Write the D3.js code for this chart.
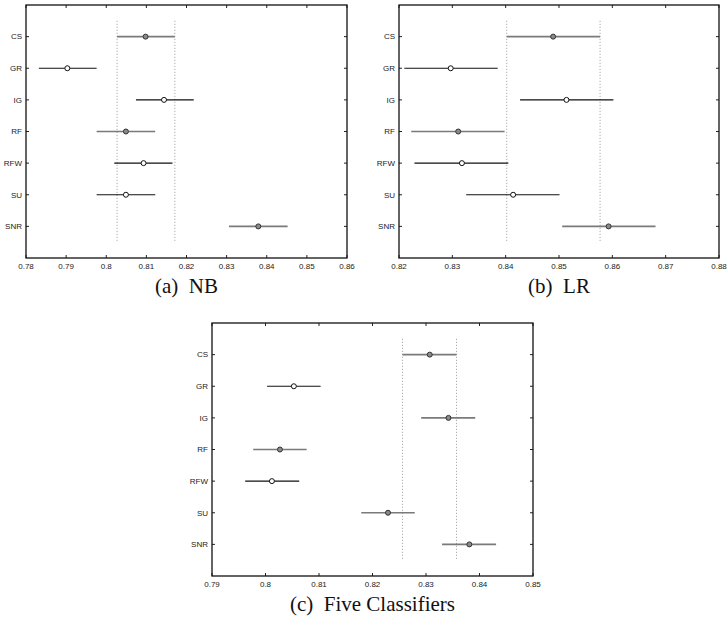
<!DOCTYPE html>
<html>
<head>
<meta charset="utf-8">
<script src="https://cdn.jsdelivr.net/npm/d3@7"></script>
<style>
  body { margin: 0; background: #fff; }
  svg { display: block; }
  .tick-label { font-family: "Liberation Sans", Arial, sans-serif; font-size: 8px; fill: #222; }
  .caption { font-family: "Liberation Serif", "Times New Roman", serif; font-size: 21px; fill: #111; }
</style>
</head>
<body>
<div id="viz"></div>
<script>
// ====================
// DATA
// ====================
const methods = ['CS', 'GR', 'IG', 'RF', 'RFW', 'SU', 'SNR'];

// (a) NB
const nbMean = [0.8098, 0.7903, 0.8144, 0.8049, 0.8093, 0.8049, 0.8379];
const nbLow  = [0.8027, 0.7832, 0.8074, 0.7976, 0.8020, 0.7976, 0.8306];
const nbHigh = [0.8171, 0.7976, 0.8218, 0.8122, 0.8165, 0.8122, 0.8452];
const nbGray = [true, false, false, true, false, false, true];
const nbTicks = [0.78, 0.79, 0.80, 0.81, 0.82, 0.83, 0.84, 0.85, 0.86];

// (b) LR
const lrMean = [0.8489, 0.8297, 0.8514, 0.8311, 0.8318, 0.8414, 0.8593];
const lrLow  = [0.8402, 0.8210, 0.8427, 0.8223, 0.8229, 0.8326, 0.8506];
const lrHigh = [0.8577, 0.8385, 0.8602, 0.8398, 0.8405, 0.8501, 0.8681];
const lrGray = [true, false, false, true, false, false, true];
const lrTicks = [0.82, 0.83, 0.84, 0.85, 0.86, 0.87, 0.88];

// (c) Five Classifiers
const fcMean = [0.8307, 0.8053, 0.8342, 0.8027, 0.8012, 0.8229, 0.8381];
const fcLow  = [0.8256, 0.8003, 0.8291, 0.7977, 0.7962, 0.8179, 0.8330];
const fcHigh = [0.8357, 0.8103, 0.8392, 0.8077, 0.8063, 0.8279, 0.8431];
const fcGray = [true, false, true, true, false, true, true];
const fcTicks = [0.79, 0.80, 0.81, 0.82, 0.83, 0.84, 0.85];

// ====================
// SETUP
// ====================
const width = 727;
const height = 628;

const svg = d3.select('#viz')
  .append('svg')
  .attr('width', width)
  .attr('height', height);

const panels = [
  { left: 26, top: 5, w: 321, h: 253, means: nbMean, lows: nbLow, highs: nbHigh, gray: nbGray, ticks: nbTicks, caption: '(a)\u00a0\u00a0NB' },
  { left: 399, top: 5, w: 320, h: 253, means: lrMean, lows: lrLow, highs: lrHigh, gray: lrGray, ticks: lrTicks, caption: '(b)\u00a0\u00a0LR' },
  { left: 212, top: 323, w: 321, h: 253, means: fcMean, lows: fcLow, highs: fcHigh, gray: fcGray, ticks: fcTicks, caption: '(c)\u00a0\u00a0Five Classifiers' }
];

const fmt = (v) => String(+v.toFixed(2));

const drawPanel = (p) => {
  const g = svg.append('g').attr('transform', `translate(${p.left},${p.top})`);

  const x = d3.scaleLinear()
    .domain(d3.extent(p.ticks))
    .range([0, p.w]);
  const y = d3.scaleLinear()
    .domain([0, methods.length + 1])
    .range([0, p.h]);

  // dotted reference lines at the selected group's (CS) interval
  g.selectAll('line.ref')
    .data([p.lows[0], p.highs[0]])
    .join('line')
    .attr('class', 'ref')
    .attr('x1', (d) => x(d)).attr('x2', (d) => x(d))
    .attr('y1', y(0.5)).attr('y2', y(methods.length + 0.5))
    .attr('stroke', '#9a9a9a')
    .attr('stroke-width', 1)
    .attr('stroke-dasharray', '1,2');

  // interval lines
  g.selectAll('line.ci')
    .data(methods)
    .join('line')
    .attr('class', 'ci')
    .attr('x1', (d, i) => x(p.lows[i]))
    .attr('x2', (d, i) => x(p.highs[i]))
    .attr('y1', (d, i) => y(i + 1))
    .attr('y2', (d, i) => y(i + 1))
    .attr('stroke', (d, i) => p.gray[i] ? '#7a7a7a' : '#111')
    .attr('stroke-width', (d, i) => p.gray[i] ? 1.6 : 1.2);

  // mean markers
  g.selectAll('circle')
    .data(methods)
    .join('circle')
    .attr('cx', (d, i) => x(p.means[i]))
    .attr('cy', (d, i) => y(i + 1))
    .attr('r', 2.5)
    .attr('fill', (d, i) => p.gray[i] ? '#8a8a8a' : '#fff')
    .attr('stroke', (d, i) => p.gray[i] ? '#333' : '#111')
    .attr('stroke-width', 1);

  // ticks (inward, all four sides)
  const tk = 3;
  p.ticks.forEach((t) => {
    g.append('line').attr('x1', x(t)).attr('x2', x(t)).attr('y1', p.h).attr('y2', p.h - tk).attr('stroke', '#222');
    g.append('line').attr('x1', x(t)).attr('x2', x(t)).attr('y1', 0).attr('y2', tk).attr('stroke', '#222');
  });
  methods.forEach((m, i) => {
    g.append('line').attr('x1', 0).attr('x2', tk).attr('y1', y(i + 1)).attr('y2', y(i + 1)).attr('stroke', '#222');
    g.append('line').attr('x1', p.w).attr('x2', p.w - tk).attr('y1', y(i + 1)).attr('y2', y(i + 1)).attr('stroke', '#222');
  });

  // box
  g.append('rect')
    .attr('x', 0).attr('y', 0)
    .attr('width', p.w).attr('height', p.h)
    .attr('fill', 'none')
    .attr('stroke', '#111')
    .attr('stroke-width', 1.3);

  // tick labels
  g.selectAll('text.xl')
    .data(p.ticks)
    .join('text')
    .attr('class', 'tick-label xl')
    .attr('x', (d) => x(d))
    .attr('y', p.h + 11)
    .attr('text-anchor', 'middle')
    .text(fmt);

  g.selectAll('text.yl')
    .data(methods)
    .join('text')
    .attr('class', 'tick-label yl')
    .attr('x', -4)
    .attr('y', (d, i) => y(i + 1))
    .attr('dy', '0.35em')
    .attr('text-anchor', 'end')
    .text((d) => d);

  // caption
  g.append('text')
    .attr('class', 'caption')
    .attr('x', p.w / 2)
    .attr('y', p.h + 35)
    .attr('text-anchor', 'middle')
    .text(p.caption);
};

panels.forEach(drawPanel);
</script>
</body>
</html>
